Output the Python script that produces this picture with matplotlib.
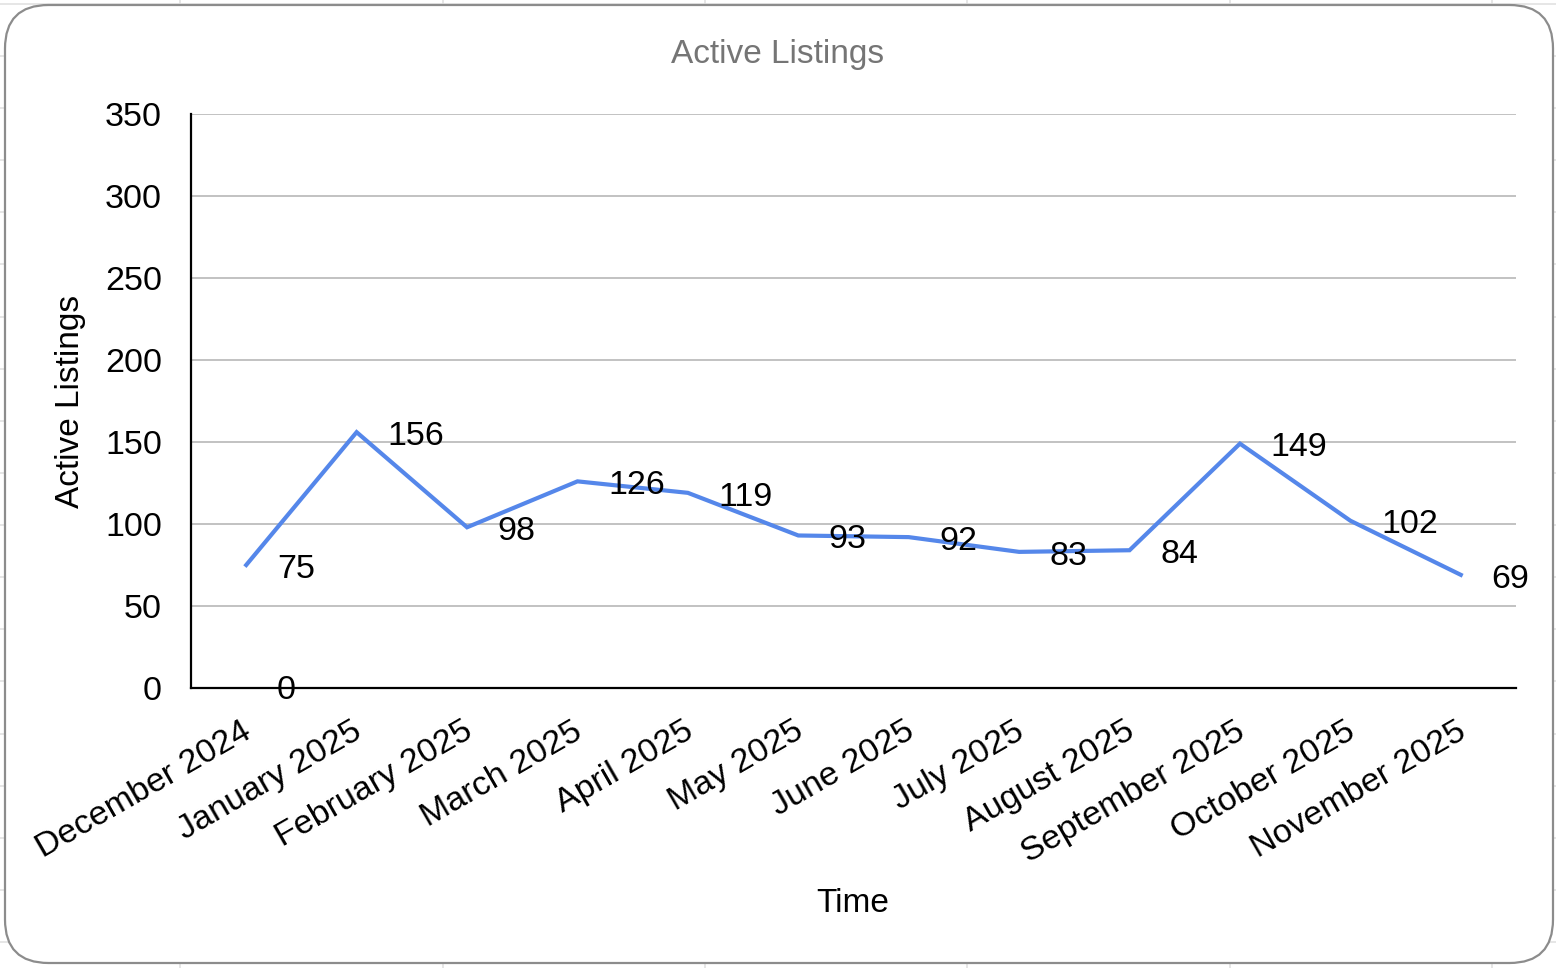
import matplotlib
matplotlib.use("Agg")
import matplotlib.pyplot as plt
from matplotlib.patches import FancyBboxPatch
from matplotlib.lines import Line2D
from matplotlib.transforms import ScaledTranslation

# ---- data ----
categories = ["December 2024", "January 2025", "February 2025", "March 2025",
              "April 2025", "May 2025", "June 2025", "July 2025",
              "August 2025", "September 2025", "October 2025", "November 2025"]
active_listings = [75, 156, 98, 126, 119, 93, 92, 83, 84, 149, 102, 69]
extra_label_index = [0]
extra_label_values = [0]
y_ticks = [0, 50, 100, 150, 200, 250, 300, 350]

plt.rcParams['font.family'] = ['Liberation Sans', 'DejaVu Sans']

W, H = 1556, 968
fig = plt.figure(figsize=(W / 100, H / 100), dpi=100)
fig.patch.set_facecolor('white')

def fx(px):
    return px / W

def fy(py):
    return 1 - py / H

# background spreadsheet cell grid
for gx in [180, 443, 705, 967, 1230, 1492]:
    fig.add_artist(Line2D([fx(gx), fx(gx)], [0, 1], transform=fig.transFigure,
                          color='#e2e2e2', lw=1.2, zorder=0))
k = 0
while True:
    gy = 3.75 + 52.125 * k
    if gy > H:
        break
    fig.add_artist(Line2D([0, 1], [fy(gy), fy(gy)], transform=fig.transFigure,
                          color='#e2e2e2', lw=1.2, zorder=0))
    k += 1

# rounded chart box
box = FancyBboxPatch((fx(5), fy(963)), fx(1553) - fx(5), fy(5) - fy(963),
                     boxstyle="round,pad=0,rounding_size=0.028",
                     transform=fig.transFigure, facecolor='white',
                     edgecolor='#8c8c8c', lw=1.6, zorder=1,
                     mutation_aspect=W / H)
fig.add_artist(box)

ax = fig.add_axes([fx(191), fy(688), fx(1516) - fx(191), fy(114) - fy(688)])
ax.set_zorder(2)
ax.patch.set_alpha(0)

x = list(range(len(categories)))
ax.plot(x, active_listings, color='#5587EA', lw=3.0, solid_joinstyle='miter', zorder=3)

for xi, v in zip(x, active_listings):
    ax.annotate(str(v), (xi, v), xytext=(22, -3), textcoords='offset points',
                ha='left', va='center', fontsize=24.5, color='black', zorder=4)
for xi, v in zip(extra_label_index, extra_label_values):
    ax.annotate(str(v), (xi, v), xytext=(22, -2), textcoords='offset points',
                ha='left', va='center', fontsize=24.5, color='black', zorder=4)

ax.set_xlim(-0.5, len(categories) - 0.5)
ax.set_ylim(0, 350)
ax.set_yticks(y_ticks)
ax.set_yticklabels([str(t) for t in y_ticks], fontsize=24.5)
ax.set_xticks(x)
ax.set_xticklabels(categories, fontsize=24.5, rotation=30, ha='right',
                   va='top', rotation_mode='anchor')
ax.tick_params(axis='y', length=0, pad=21)
ax.tick_params(axis='x', length=0, pad=20)
shift = ScaledTranslation(-5 / 100, 0, fig.dpi_scale_trans)
for lab in ax.get_xticklabels():
    lab.set_transform(lab.get_transform() + shift)

ax.grid(axis='y', color='#b7b7b7', lw=1.2)
ax.set_axisbelow(True)
for s in ['top', 'right']:
    ax.spines[s].set_visible(False)
for s in ['left', 'bottom']:
    ax.spines[s].set_color('black')
    ax.spines[s].set_linewidth(1.6)
    ax.spines[s].set_zorder(3)

fig.text(fx(70), fy(401), "Active Listings", rotation=90, ha='center', va='center',
         fontsize=24, color='black', zorder=5)
fig.text(fx(853), fy(903), "Time", ha='center', va='center', fontsize=24,
         color='black', zorder=5)
fig.text(fx(778), fy(55), "Active Listings", ha='center', va='center', fontsize=24,
         color='#757575', zorder=5)

fig.savefig("out.png", dpi=100)
